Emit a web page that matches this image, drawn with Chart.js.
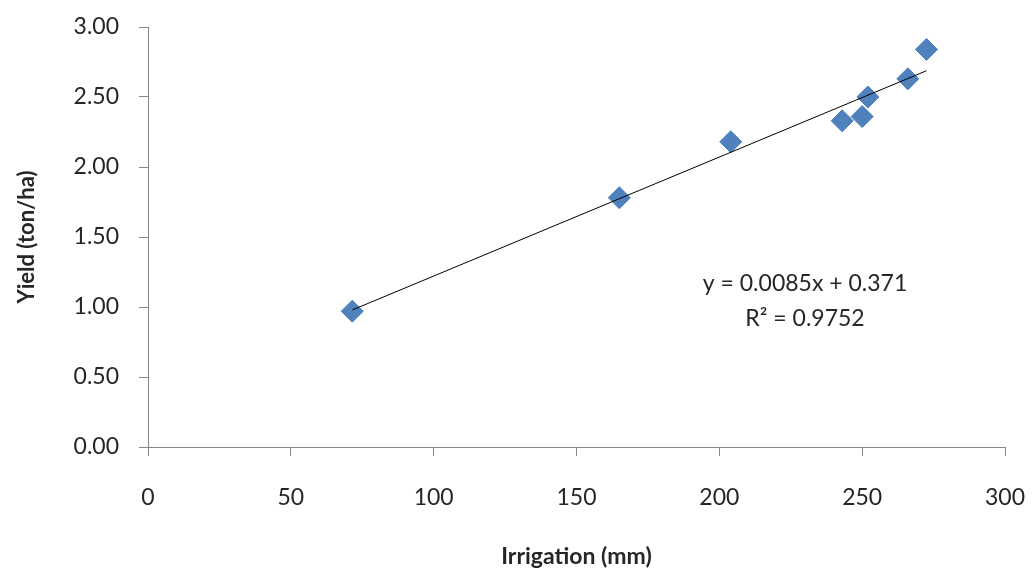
<!DOCTYPE html>
<html>
<head>
<meta charset="utf-8">
<script src="https://cdn.jsdelivr.net/npm/chart.js@4"></script>
<style>
  html, body { margin: 0; padding: 0; background: #fff; }
  #wrap { width: 1032px; height: 568px; position: relative; }
</style>
</head>
<body>
<div id="wrap"><canvas id="c" width="1032" height="568"></canvas></div>
<script>
// Data
const irrigation = [71.5, 165, 204, 243, 250, 252, 266, 272.5];
const yieldVals  = [0.97, 1.78, 2.18, 2.33, 2.36, 2.50, 2.63, 2.84];
const trendSlope = 0.0085;
const trendIntercept = 0.371;
const rSquared = 0.9752;
const xTicks = [0, 50, 100, 150, 200, 250, 300];
const yTicks = [0.00, 0.50, 1.00, 1.50, 2.00, 2.50, 3.00];
const xTitle = 'Irrigation (mm)';
const yTitle = 'Yield (ton/ha)';

const points = irrigation.map((x, i) => ({ x: x, y: yieldVals[i] }));
const xMin = Math.min(...irrigation), xMax = Math.max(...irrigation);
const trend = [xMin, xMax].map(x => ({ x: x, y: trendSlope * x + trendIntercept }));

const FONT = 'Lato, "Open Sans", sans-serif';
const TXT = '#262626';
const AXIS = '#868686';

const eqPlugin = {
  id: 'eq',
  afterDatasetsDraw(chart) {
    const { ctx, scales } = chart;
    const xs = scales.x, ys = scales.y;
    ctx.save();
    ctx.fillStyle = TXT;
    ctx.font = '23px ' + FONT;
    ctx.textAlign = 'center';
    ctx.textBaseline = 'middle';
    const cx = xs.getPixelForValue(230);
    ctx.fillText('y = ' + trendSlope.toFixed(4) + 'x + ' + trendIntercept.toFixed(3), cx, ys.getPixelForValue(1.17));
    ctx.fillText('R² = ' + rSquared.toFixed(4), cx, ys.getPixelForValue(0.915));
    ctx.restore();
  }
};

new Chart(document.getElementById('c'), {
  type: 'scatter',
  data: {
    datasets: [
      {
        label: 'Yield',
        data: points,
        pointStyle: 'rectRot',
        pointRadius: 11,
        pointHoverRadius: 11,
        backgroundColor: '#4F81BD',
        borderColor: '#4A7EBB',
        borderWidth: 1,
        order: 2
      },
      {
        label: 'Linear trend',
        type: 'line',
        data: trend,
        borderColor: '#000000',
        borderWidth: 1,
        pointRadius: 0,
        fill: false,
        order: 1
      }
    ]
  },
  options: {
    responsive: false,
    animation: false,
    devicePixelRatio: 1,
    layout: { padding: { top: 27, right: 27, left: 0, bottom: 0 } },
    plugins: { legend: { display: false }, tooltip: { enabled: false } },
    scales: {
      x: {
        type: 'linear',
        min: xTicks[0],
        max: xTicks[xTicks.length - 1],
        afterBuildTicks(s) { s.ticks = xTicks.map(v => ({ value: v })); },
        afterFit(s) { s.height = 121; s.paddingLeft = 0; s.paddingRight = 0; },
        ticks: {
          font: { family: FONT, size: 23 },
          color: TXT,
          padding: 28,
          maxRotation: 0,
          callback: v => String(v)
        },
        grid: { display: true, drawOnChartArea: false, drawTicks: true, tickLength: 9, color: AXIS, lineWidth: 1 },
        border: { display: true, color: AXIS, width: 1 },
        title: {
          display: true, text: xTitle, color: TXT,
          font: { family: FONT, size: 23, weight: 'bold' },
          padding: { top: 0, bottom: -2 }
        }
      },
      y: {
        type: 'linear',
        min: yTicks[0],
        max: yTicks[yTicks.length - 1],
        afterBuildTicks(s) { s.ticks = yTicks.map(v => ({ value: v })); },
        afterFit(s) { s.width = 148; s.paddingTop = 0; s.paddingBottom = 0; },
        ticks: {
          font: { family: FONT, size: 23 },
          color: TXT,
          padding: 20,
          callback: v => Number(v).toFixed(2)
        },
        grid: { display: true, drawOnChartArea: false, drawTicks: true, tickLength: 9, color: AXIS, lineWidth: 1 },
        border: { display: true, color: AXIS, width: 1 },
        title: {
          display: true, text: yTitle, color: TXT,
          font: { family: FONT, size: 22, weight: 'bold' },
          padding: { top: 14, bottom: 0 }
        }
      }
    }
  },
  plugins: [eqPlugin]
});
</script>
</body>
</html>
